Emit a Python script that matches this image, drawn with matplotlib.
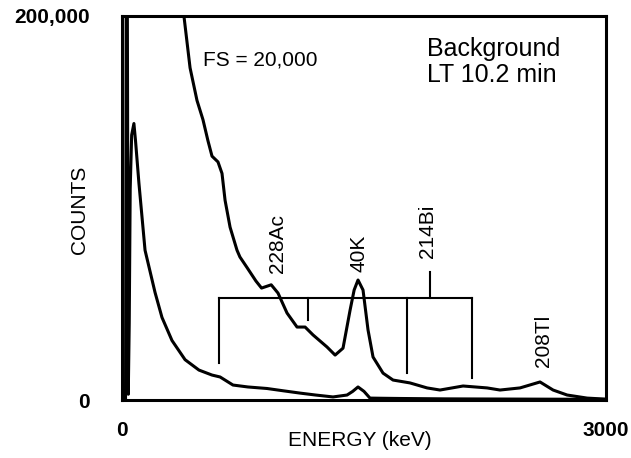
#!/usr/bin/env python3
"""
Background gamma spectrum, NaI detector, LT 10.2 min
"""

import matplotlib
matplotlib.use('Agg')
import matplotlib.pyplot as plt

plt.rcParams['font.family'] = ['Liberation Sans', 'DejaVu Sans']

# Full scale trace (200,000 counts), energy in keV
low_energy = [0, 22, 27, 32, 39, 45, 51, 60, 74, 84, 105, 143, 205, 248, 310,
              391, 477, 558, 608, 688, 780, 899, 1000, 1104, 1200, 1308, 1395,
              1430, 1463, 1500, 1537, 1620, 1724, 2000, 2400, 2800, 2990]
low_counts = [0, 0, 250000, 250000, 3000, 40000, 110000, 138000, 144000, 135000,
              113000, 78000, 56000, 43000, 31000, 21000, 15600, 13000, 12000,
              7800, 6800, 6000, 4800, 3600, 2600, 1600, 2600, 4500, 6800, 4500,
              1000, 900, 800, 600, 500, 400, 300]

# Expanded trace (FS = 20,000 counts)
GAIN = 10
high_energy = [375, 384, 422, 465, 502, 533, 558, 595, 620, 639, 670, 713, 731,
               775, 830, 865, 925, 967, 1023, 1085, 1135, 1184, 1271, 1321,
               1370, 1414, 1439, 1463, 1494, 1525, 1556, 1618, 1680, 1785,
               1891, 1971, 2114, 2263, 2343, 2467, 2591, 2672, 2759, 2883, 2990]
high_counts = [21500, 20000, 17300, 15600, 14600, 13500, 12700, 12400, 11800,
               10400, 9000, 7800, 7450, 6900, 6200, 5830, 6000, 5570, 4530,
               3800, 3800, 3390, 2760, 2340, 2700, 4690, 5730, 6250, 5730,
               3650, 2240, 1400, 1040, 890, 630, 520, 730, 630, 520, 630, 940,
               520, 260, 100, 50]

# 214Bi line markers (keV), bracket height and drop of each leg (counts)
bi_lines = [600, 1150, 1765, 2170]
bi_leg_bottom = [19300, 41700, 14000, 11500]
bracket_level = 53100
bracket_stub = (1909, 66700)

# Peak labels: text, energy, counts where the label starts
peak_labels = [('228Ac', 967, 66000), ('40K', 1469, 66700),
               ('214Bi', 1891, 74000), ('208Tl', 2610, 17200)]


def main():
    fig = plt.figure(figsize=(6.31, 4.58), dpi=100)
    ax = fig.add_axes([0.1933, 0.1266, 0.7671, 0.8385])

    ax.plot(low_energy, low_counts, color='black', lw=2.2,
            solid_joinstyle='round')
    ax.plot(high_energy, [c * GAIN for c in high_counts], color='black',
            lw=2.2, solid_joinstyle='round')

    # bracket marking the 214Bi lines
    ax.plot([bi_lines[0], bi_lines[-1]], [bracket_level, bracket_level],
            color='black', lw=1.5)
    for e, b in zip(bi_lines, bi_leg_bottom):
        ax.plot([e, e], [bracket_level, b], color='black', lw=1.5)
    ax.plot([bracket_stub[0], bracket_stub[0]], [bracket_level, bracket_stub[1]],
            color='black', lw=1.5)

    for txt, e, c in peak_labels:
        ax.text(e, c, txt, rotation=90, ha='center', va='bottom', fontsize=15)

    ax.text(502, 177000, 'FS = 20,000', fontsize=15, ha='left', va='center')
    ax.text(1891, 176000, 'Background\nLT 10.2 min', fontsize=18, ha='left',
            va='center', linespacing=1.15)

    ax.set_xlim(0, 3000)
    ax.set_ylim(0, 200000)
    ax.set_xticks([0, 3000])
    ax.set_xticklabels(['0', '3000'], fontsize=15, fontweight='bold')
    ax.set_yticks([0, 200000])
    ax.set_yticklabels(['0', '200,000'], fontsize=15, fontweight='bold')
    ax.tick_params(axis='both', length=0)
    ax.tick_params(axis='x', pad=15)
    ax.tick_params(axis='y', pad=23)

    # axis titles placed in figure pixels of the original layout
    fig.text(360 / 631, 1 - 440 / 458, 'ENERGY (keV)', fontsize=15,
             ha='center', va='center')
    fig.text(80 / 631, 1 - 210 / 458, 'COUNTS', fontsize=15, rotation=90,
             ha='center', va='center')

    for sp in ax.spines.values():
        sp.set_linewidth(2.2)

    fig.savefig('out.png', dpi=100)
    plt.close(fig)


if __name__ == "__main__":
    main()
